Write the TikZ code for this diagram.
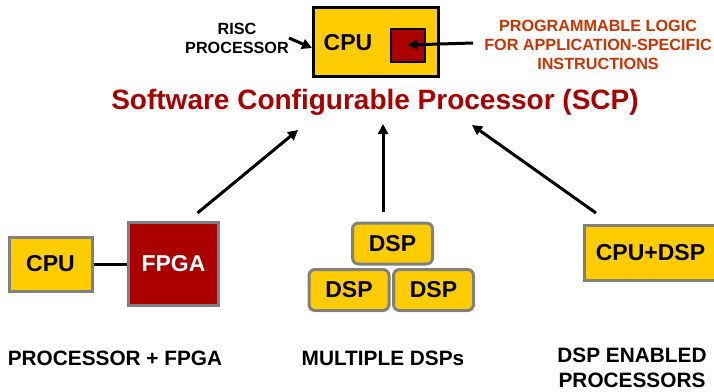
\documentclass[tikz,border=0pt]{standalone}
\usepackage{fontspec}
\setmainfont{Liberation Sans}
\usetikzlibrary{arrows.meta}
\definecolor{chipyellow}{RGB}{255,204,0}
\definecolor{fpgared}{RGB}{170,0,0}
\definecolor{notered}{RGB}{204,51,0}
\definecolor{edgegray}{RGB}{128,128,128}
\newcommand{\dspnode}[2]{\node(#1)[dsp] at (#2) {DSP}}
\newcommand{\capnode}[3]{\node(#1)[caption] at (#2) {#3}}

\begin{document}
\begin{tikzpicture}[
        x=1pt, y=-1pt,
        every node/.style={font=\bfseries},
        box/.style={rectangle,inner sep=0pt,line width=3pt,draw=edgegray,
                    fill=chipyellow,font=\fontsize{23}{26}\selectfont\bfseries},
        dsp/.style={box,rounded corners=6pt,minimum width=80pt,minimum height=41pt},
        caption/.style={align=center,inner sep=0pt,font=\fontsize{20.8}{25}\selectfont\bfseries},
        note/.style={align=center,inner sep=0pt,font=\fontsize{16.2}{19}\selectfont\bfseries},
        arr/.style={line width=3pt,-{Triangle[length=10pt,width=10pt]}}
      ]
      \useasboundingbox (0,0) rectangle (714,391);

      % SCP on top: the CPU with its programmable logic
      \node(cpubox)[box,draw=black,minimum width=125pt,minimum height=69pt] at (376,42) {};
      \node(cpu)[font=\fontsize{23}{26}\selectfont\bfseries] at (348,43) {CPU};
      \node(logic)[rectangle,inner sep=0pt,line width=2pt,draw=black,fill=fpgared,
                   minimum width=34pt,minimum height=33pt] at (407.5,45) {};
      \node(risc)[note] at (237,38) {RISC\\PROCESSOR};
      \node(pl)[note,text=notered] at (598,45) {PROGRAMMABLE LOGIC\\FOR APPLICATION-SPECIFIC\\INSTRUCTIONS};
      \coordinate (plstart) at (473,43);
      \draw[arr] (risc.east) -- ([yshift=-6pt]cpubox.west);
      \draw[arr] (plstart) -- (logic.center);

      \node(title)[text=fpgared,font=\fontsize{28}{32}\selectfont\bfseries] at (375,102)
            {Software Configurable Processor (SCP)};

      % the three ways to get there
      \node(cpuleft)[box,minimum width=83pt,minimum height=54pt] at (50.5,264) {CPU};
      \node(fpga)[box,fill=fpgared,text=white,minimum width=90pt,minimum height=83pt] at (173.5,264) {FPGA};
      \draw[line width=3pt] (cpuleft) -- (fpga);

      \dspnode{dspa}{392.5,243.5};
      \dspnode{dspb}{349,290};
      \dspnode{dspc}{433.5,290};

      \node(cpudsp)[box,minimum width=132pt,minimum height=55pt] at (650.5,253) {CPU+DSP};

      % arrows up to the SCP
      \coordinate (inL) at (298,130);
      \coordinate (inM) at (383,124);
      \coordinate (inR) at (472,125);
      \draw[arr] ([xshift=24pt,yshift=8pt]fpga.north) -- (inL);
      \draw[arr] ([xshift=-9.5pt,yshift=10pt]dspa.north) -- (inM);
      \draw[arr] ([xshift=13pt,yshift=11pt]cpudsp.north west) -- (inR);

      % captions
      \capnode{capfpga}{115,358}{PROCESSOR + FPGA};
      \capnode{capdsp}{383,358}{MULTIPLE DSPs};
      \capnode{capenabled}{632,368}{DSP ENABLED\\PROCESSORS};
    \end{tikzpicture}
\end{document}
